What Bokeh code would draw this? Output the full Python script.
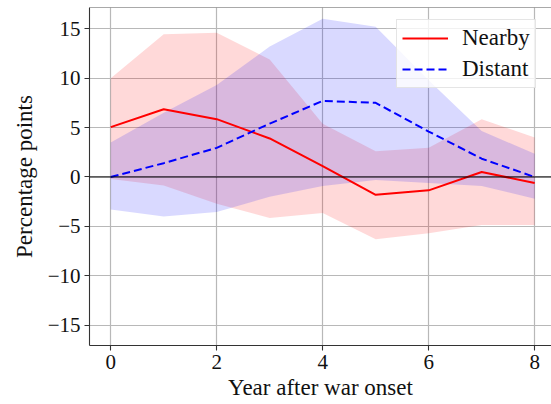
from bokeh.plotting import figure
from bokeh.models import Range1d, Span, Legend, LegendItem, FixedTicker
from bokeh.embed import file_html
from bokeh.resources import INLINE

# Years after onset
years = [0, 1, 2, 3, 4, 5, 6, 7, 8]

# Point estimates (percentage points)
nearby = [5.05, 6.85, 5.85, 3.9, 1.1, -1.8, -1.35, 0.5, -0.6]
distant = [0.0, 1.4, 2.95, 5.4, 7.7, 7.5, 4.6, 1.85, 0.0]

# Confidence bands
nearby_lo = [-0.2, -0.85, -2.7, -4.15, -3.65, -6.3, -5.7, -4.85, -4.85]
nearby_hi = [10.0, 14.45, 14.6, 11.9, 5.4, 2.6, 2.95, 5.85, 4.0]
distant_lo = [-3.3, -4.0, -3.55, -2.0, -0.9, -0.3, -0.6, -0.9, -2.2]
distant_hi = [3.5, 6.5, 9.3, 13.2, 16.0, 15.2, 9.8, 4.65, 2.35]

x_ticks = [0, 2, 4, 6, 8]
y_ticks = [-15, -10, -5, 0, 5, 10, 15]
y_tick_labels = ["\u221215", "\u221210", "\u22125", "0", "5", "10", "15"]

FONT = "Liberation Serif"
TICK_SIZE = "21px"
LABEL_SIZE = "23px"
Y_MIN, Y_MAX = -17.05, 17.15

p = figure(
    width=551, height=404,
    x_range=Range1d(-0.4, 8.317), y_range=Range1d(Y_MIN, Y_MAX),
    output_backend="svg", toolbar_location=None,
    min_border_left=89, min_border_right=0, min_border_top=7, min_border_bottom=59,
)
p.outline_line_color = None
p.background_fill_color = "white"
p.border_fill_color = "white"

# grid
for g in (p.xgrid, p.ygrid):
    g.grid_line_color = "#b8b8b8"
    g.grid_line_width = 1.2
p.xgrid.ticker = FixedTicker(ticks=x_ticks)
p.ygrid.ticker = FixedTicker(ticks=y_ticks)

# axes
p.xaxis.ticker = FixedTicker(ticks=x_ticks)
p.yaxis.ticker = FixedTicker(ticks=y_ticks)
p.yaxis.major_label_overrides = {t: s for t, s in zip(y_ticks, y_tick_labels)}
for ax in (p.xaxis, p.yaxis):
    ax.axis_line_color = "#333333"
    ax.axis_line_width = 1.1
    ax.major_tick_line_color = "#333333"
    ax.major_tick_line_width = 1.1
    ax.major_tick_in = 0
    ax.major_tick_out = 5
    ax.minor_tick_line_color = None
    ax.major_label_text_font = FONT
    ax.major_label_text_font_size = TICK_SIZE
    ax.major_label_text_color = "#111111"
    ax.axis_label_text_font = FONT
    ax.axis_label_text_font_size = LABEL_SIZE
    ax.axis_label_text_font_style = "normal"
    ax.axis_label_text_color = "#111111"
p.xaxis.axis_label = "Year after war onset"
p.yaxis.axis_label = "Percentage points"
p.xaxis.major_label_standoff = 4
p.yaxis.major_label_standoff = 4
p.xaxis.axis_label_standoff = 3
p.yaxis.axis_label_standoff = 8

# top spine
p.add_layout(Span(location=Y_MAX, dimension="width", line_color="#555555", line_width=1.1))

# bands
p.varea(x=years, y1=nearby_lo, y2=nearby_hi, fill_color="red", fill_alpha=0.15)
p.varea(x=years, y1=distant_lo, y2=distant_hi, fill_color="blue", fill_alpha=0.15)

# zero reference
p.add_layout(Span(location=0, dimension="width", line_color="black", line_width=1.2))

r_near = p.line(years, nearby, line_color="red", line_width=2)
r_dist = p.line(years, distant, line_color="blue", line_width=2, line_dash="8 4")

legend = Legend(
    items=[LegendItem(label="Nearby", renderers=[r_near]),
           LegendItem(label="Distant", renderers=[r_dist])],
    location=(307, 257),
    label_text_font=FONT, label_text_font_size=LABEL_SIZE, label_text_color="#111111",
    glyph_width=46, glyph_height=20, label_height=20, label_standoff=14,
    spacing=5, padding=5, margin=0,
    background_fill_color="white", background_fill_alpha=0.8,
    border_line_color="#cccccc", border_line_width=1,
)
p.add_layout(legend)

open("out.html", "w").write(file_html(p, INLINE))
